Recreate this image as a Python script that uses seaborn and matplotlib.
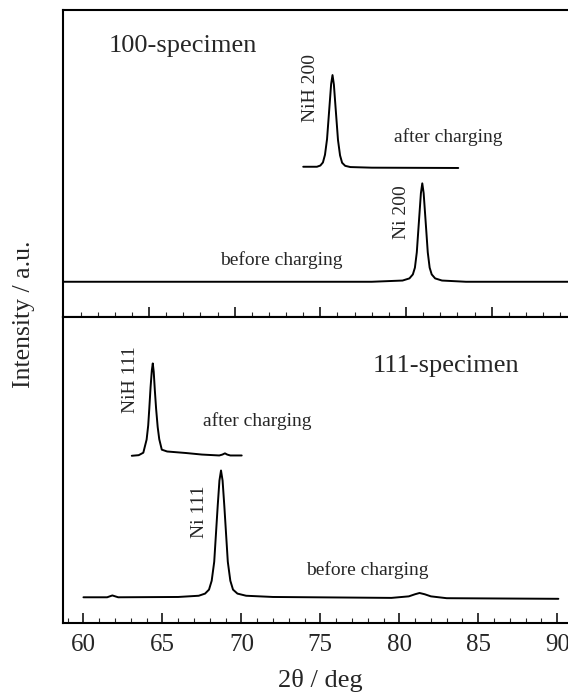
import matplotlib
matplotlib.use("Agg")
import matplotlib.pyplot as plt
import seaborn as sns
from matplotlib.ticker import MultipleLocator

sns.set_style("ticks")
plt.rcParams['font.family'] = ['Liberation Serif', 'DejaVu Serif']

# ---- 100-specimen (upper panel, its own 2theta scale 60-90) ----
ni200_x = [60.0, 78.0, 79.8, 80.2, 80.4, 80.52, 80.63, 80.71, 80.79, 80.87, 80.95,
           81.03, 81.11, 81.19, 81.27, 81.38, 81.5, 81.7, 82.1, 83.5, 90.0]
ni200_y = [11.4, 11.4, 11.8, 12.5, 13.8, 16.0, 21.0, 27.5, 33.9, 40.3, 43.5,
           40.3, 33.9, 27.5, 21.0, 16.0, 13.8, 12.5, 11.8, 11.4, 11.4]

nih200_x = [74.0, 74.8, 75.0, 75.15, 75.27, 75.39, 75.47, 75.55, 75.63, 75.71,
            75.79, 75.87, 75.95, 76.03, 76.15, 76.27, 76.45, 76.75, 78.0, 83.05]
nih200_y = [48.9, 48.9, 49.3, 50.3, 52.8, 57.9, 63.9, 69.9, 75.9, 78.8,
            75.7, 69.6, 63.6, 57.6, 52.6, 50.2, 49.2, 48.8, 48.6, 48.5]

# ---- 111-specimen (lower panel) ----
ni111_x = [60.0, 61.5, 61.83, 62.2, 66.0, 67.3, 67.7, 67.95, 68.12, 68.28, 68.39,
           68.5, 68.61, 68.71, 68.81, 68.92, 69.03, 69.14, 69.3, 69.47, 69.75,
           70.3, 72.0, 79.5, 80.6, 81.0, 81.28, 81.6, 82.0, 83.0, 90.07]
ni111_y = [8.4, 8.4, 9.0, 8.4, 8.5, 8.9, 9.6, 10.9, 13.8, 20.0, 29.1,
           38.2, 46.5, 49.8, 46.5, 38.2, 29.1, 20.0, 13.8, 10.9, 9.6,
           8.9, 8.5, 8.2, 8.7, 9.4, 9.8, 9.4, 8.7, 8.1, 7.9]

nih111_x = [63.06, 63.5, 63.79, 64.0, 64.1, 64.17, 64.25, 64.33, 64.39,
            64.45, 64.52, 64.6, 64.7, 64.8, 64.96, 65.3, 66.5, 67.5, 68.6,
            68.8, 68.96, 69.1, 69.3, 70.02]
nih111_y = [54.6, 54.8, 55.6, 59.9, 64.5, 70.1, 77.0, 82.5, 84.75,
            82.0, 76.0, 70.0, 64.0, 60.0, 56.6, 56.0, 55.5, 55.0, 54.7,
            55.0, 55.4, 55.0, 54.7, 54.7]

fig = plt.figure(figsize=(5.68, 6.92), dpi=100)
ax_top = fig.add_axes([0.1116, 0.5423, 0.9048, 0.4432])
ax_bot = fig.add_axes([0.1116, 0.0997, 0.9048, 0.4426])

lw = 1.4
for xs, ys in [(ni200_x, ni200_y), (nih200_x, nih200_y)]:
    sns.lineplot(x=xs, y=ys, ax=ax_top, color='black', linewidth=lw,
                 sort=False, estimator=None)
for xs, ys in [(ni111_x, ni111_y), (nih111_x, nih111_y)]:
    sns.lineplot(x=xs, y=ys, ax=ax_bot, color='black', linewidth=lw,
                 sort=False, estimator=None)

ax_top.set_xlim(60, 90)
ax_bot.set_xlim(58.73, 91.27)
for ax in (ax_top, ax_bot):
    ax.set_ylim(0, 100)
    ax.set_yticks([])
    ax.xaxis.set_major_locator(MultipleLocator(5))
    ax.xaxis.set_minor_locator(MultipleLocator(1))
    ax.tick_params(axis='x', which='major', direction='in', length=7.2,
                   width=1.3, labelsize=18, pad=8, top=False)
    ax.tick_params(axis='x', which='minor', direction='in', length=3.4,
                   width=0.8, top=False)
    for s in ax.spines.values():
        s.set_linewidth(1.5)
        s.set_color('black')
ax_top.tick_params(axis='x', which='both', labelbottom=False)

# annotations, upper panel
ax_top.text(62.63, 88.3, '100-specimen', fontsize=19, va='center', ha='left')
ax_top.text(79.29, 58.7, 'after charging', fontsize=14, va='center', ha='left')
ax_top.text(69.13, 18.5, 'before charging', fontsize=14, va='center', ha='left')
ax_top.text(74.44, 74.5, 'NiH 200', fontsize=14, rotation=90, va='center', ha='center')
ax_top.text(79.73, 34.2, 'Ni 200', fontsize=14, rotation=90, va='center', ha='center')

# annotations, lower panel
ax_bot.text(78.33, 83.9, '111-specimen', fontsize=19, va='center', ha='left')
ax_bot.text(67.56, 65.9, 'after charging', fontsize=14, va='center', ha='left')
ax_bot.text(74.1, 17.3, 'before charging', fontsize=14, va='center', ha='left')
ax_bot.text(62.97, 79.5, 'NiH 111', fontsize=14, rotation=90, va='center', ha='center')
ax_bot.text(67.33, 36.4, 'Ni 111', fontsize=14, rotation=90, va='center', ha='center')

ax_bot.set_xlabel('2θ / deg', fontsize=19, labelpad=9)
fig.text(24 / 568, 1 - 314 / 692, 'Intensity / a.u.', fontsize=18.5,
         rotation=90, va='center', ha='center')

fig.savefig('out.png', dpi=100)
